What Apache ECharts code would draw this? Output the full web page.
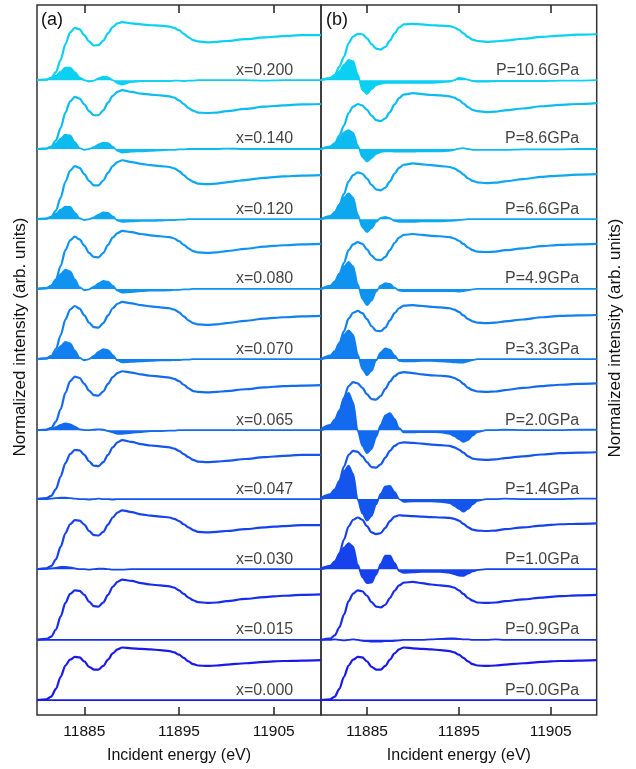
<!DOCTYPE html>
<html><head><meta charset="utf-8">
<script src="https://cdn.jsdelivr.net/npm/echarts@6/dist/echarts.min.js"></script>
<style>html,body{margin:0;padding:0;background:#fff}#c{width:636px;height:769px}</style>
</head><body><div id="c"></div>
<script>
// ---------- DATA ----------
const energy = [11880, 11881, 11881.5, 11882, 11882.5, 11883, 11883.5, 11884, 11884.5,
  11885, 11885.5, 11886, 11886.5, 11887, 11887.5, 11888, 11888.5, 11889,
  11890, 11891, 11892, 11893, 11894, 11894.5, 11895, 11895.5, 11896, 11896.5, 11897,
  11898, 11899, 11900, 11902, 11904, 11906, 11908, 11910];
const energyTicks = [11885, 11895, 11905];
const labelsA = ['x=0.200', 'x=0.140', 'x=0.120', 'x=0.080', 'x=0.070', 'x=0.065', 'x=0.047', 'x=0.030', 'x=0.015', 'x=0.000'];
const labelsB = ['P=10.6GPa', 'P=8.6GPa', 'P=6.6GPa', 'P=4.9GPa', 'P=3.3GPa', 'P=2.0GPa', 'P=1.4GPa', 'P=1.0GPa', 'P=0.9GPa', 'P=0.0GPa'];
// vertical offset of each spectrum (stacking), top to bottom
const offsets = [14.11, 12.58, 11.02, 9.47, 7.91, 6.33, 4.80, 3.24, 1.67, 0.33];

// panel (a) spectra
const xas_x0200 = [0.00, 0.01, 0.05, 0.18, 0.45, 0.80, 1.06, 1.16, 1.13,
  1.00, 0.86, 0.77, 0.78, 0.88, 1.04, 1.18, 1.26, 1.29,
  1.26, 1.24, 1.22, 1.21, 1.19, 1.16, 1.11, 1.03, 0.95, 0.89, 0.86,
  0.84, 0.85, 0.87, 0.91, 0.95, 0.98, 1.00, 1.00];
const xas_x0140 = [0.00, 0.01, 0.05, 0.19, 0.47, 0.81, 1.06, 1.16, 1.12,
  0.99, 0.84, 0.75, 0.75, 0.86, 1.03, 1.18, 1.27, 1.31,
  1.27, 1.23, 1.21, 1.19, 1.17, 1.14, 1.08, 1.00, 0.91, 0.85, 0.81,
  0.80, 0.81, 0.84, 0.89, 0.94, 0.97, 0.99, 1.00];
const xas_x0120 = [0.00, 0.01, 0.05, 0.19, 0.48, 0.83, 1.08, 1.18, 1.14,
  1.00, 0.85, 0.75, 0.75, 0.86, 1.03, 1.18, 1.27, 1.31,
  1.27, 1.23, 1.20, 1.18, 1.16, 1.13, 1.07, 0.98, 0.89, 0.83, 0.79,
  0.78, 0.79, 0.82, 0.87, 0.92, 0.95, 0.97, 0.98];
const xas_x0080 = [0.00, 0.01, 0.06, 0.21, 0.51, 0.86, 1.08, 1.16, 1.10,
  0.96, 0.80, 0.71, 0.70, 0.80, 0.98, 1.14, 1.24, 1.29,
  1.26, 1.22, 1.19, 1.17, 1.15, 1.12, 1.06, 0.98, 0.90, 0.84, 0.81,
  0.80, 0.81, 0.84, 0.89, 0.94, 0.97, 0.99, 1.00];
const xas_x0070 = [0.00, 0.01, 0.06, 0.22, 0.53, 0.88, 1.10, 1.18, 1.12,
  0.97, 0.81, 0.71, 0.70, 0.80, 0.97, 1.13, 1.23, 1.27,
  1.24, 1.20, 1.17, 1.15, 1.13, 1.10, 1.04, 0.95, 0.86, 0.80, 0.77,
  0.76, 0.77, 0.80, 0.85, 0.90, 0.93, 0.95, 0.96];
const xas_x0065 = [0.00, 0.01, 0.05, 0.19, 0.47, 0.83, 1.09, 1.19, 1.16,
  1.03, 0.88, 0.78, 0.77, 0.86, 1.03, 1.18, 1.27, 1.31,
  1.28, 1.24, 1.21, 1.19, 1.17, 1.14, 1.09, 1.01, 0.93, 0.87, 0.85,
  0.84, 0.85, 0.87, 0.91, 0.95, 0.98, 0.99, 1.00];
const xas_x0047 = [0.00, 0.02, 0.07, 0.22, 0.50, 0.80, 1.00, 1.09, 1.08,
  0.98, 0.84, 0.74, 0.73, 0.82, 0.98, 1.15, 1.26, 1.31,
  1.27, 1.22, 1.19, 1.17, 1.15, 1.12, 1.07, 1.00, 0.93, 0.87, 0.83,
  0.82, 0.83, 0.85, 0.89, 0.93, 0.96, 0.98, 0.98];
const xas_x0030 = [0.00, 0.02, 0.07, 0.22, 0.50, 0.80, 1.00, 1.09, 1.08,
  0.99, 0.85, 0.76, 0.75, 0.83, 0.99, 1.15, 1.26, 1.31,
  1.27, 1.22, 1.19, 1.17, 1.15, 1.12, 1.07, 1.00, 0.93, 0.87, 0.83,
  0.82, 0.83, 0.85, 0.89, 0.93, 0.96, 0.98, 0.98];
const xas_x0015 = [0.00, 0.02, 0.07, 0.23, 0.52, 0.82, 1.02, 1.10, 1.09,
  1.00, 0.85, 0.75, 0.74, 0.83, 1.00, 1.18, 1.29, 1.34,
  1.31, 1.26, 1.23, 1.21, 1.19, 1.16, 1.10, 1.02, 0.94, 0.88, 0.84,
  0.82, 0.83, 0.86, 0.91, 0.95, 0.98, 1.00, 1.01];
const xas_x0000 = [0.00, 0.02, 0.08, 0.25, 0.52, 0.77, 0.90, 0.96, 0.95,
  0.86, 0.74, 0.68, 0.68, 0.76, 0.90, 1.04, 1.13, 1.17,
  1.15, 1.14, 1.13, 1.11, 1.09, 1.06, 1.01, 0.94, 0.86, 0.80, 0.77,
  0.76, 0.77, 0.79, 0.82, 0.85, 0.87, 0.88, 0.89];

const diff_x0200 = [0.00, 0.01, 0.04, 0.10, 0.19, 0.28, 0.28, 0.18, 0.06,
  0.00, -0.03, -0.01, 0.04, 0.08, 0.06, 0.00, -0.07, -0.10,
  -0.04, -0.02, -0.02, -0.02, -0.02, -0.01, -0.01, -0.02, -0.01, -0.01, 0.00,
  0.00, 0.00, 0.00, 0.00, -0.01, 0.00, 0.00, 0.00];
const diff_x0140 = [0.00, 0.01, 0.05, 0.12, 0.23, 0.32, 0.30, 0.15, 0.02,
  -0.02, 0.00, 0.04, 0.10, 0.14, 0.13, 0.05, -0.04, -0.08,
  -0.06, -0.05, -0.04, -0.03, -0.02, -0.02, -0.01, -0.01, 0.00, 0.00, 0.00,
  0.00, 0.00, 0.01, 0.00, 0.00, 0.00, 0.00, 0.00];
const diff_x0120 = [0.00, 0.01, 0.05, 0.12, 0.21, 0.28, 0.27, 0.14, 0.02,
  -0.02, 0.00, 0.04, 0.10, 0.15, 0.14, 0.06, -0.03, -0.06,
  -0.05, -0.04, -0.04, -0.03, -0.02, -0.02, -0.01, -0.01, 0.00, 0.00, 0.00,
  0.00, 0.00, 0.00, 0.00, 0.00, 0.00, 0.00, 0.00];
const diff_x0080 = [0.00, 0.02, 0.08, 0.19, 0.33, 0.43, 0.39, 0.21, 0.04,
  -0.03, -0.01, 0.05, 0.12, 0.18, 0.16, 0.07, -0.04, -0.08,
  -0.07, -0.05, -0.04, -0.04, -0.03, -0.02, -0.02, -0.01, -0.01, 0.00, 0.00,
  0.00, 0.00, 0.00, 0.00, 0.00, 0.00, 0.00, 0.00];
const diff_x0070 = [0.00, 0.02, 0.07, 0.17, 0.29, 0.38, 0.35, 0.19, 0.03,
  -0.03, 0.00, 0.07, 0.16, 0.22, 0.20, 0.09, -0.03, -0.07,
  -0.06, -0.05, -0.04, -0.03, -0.03, -0.02, -0.02, -0.01, -0.01, 0.00, 0.00,
  0.00, 0.00, 0.00, 0.00, 0.00, 0.00, 0.00, 0.00];
const diff_x0065 = [0.00, 0.01, 0.03, 0.07, 0.12, 0.15, 0.13, 0.08, 0.02,
  0.00, 0.00, 0.01, 0.02, 0.01, -0.02, -0.05, -0.08, -0.08,
  -0.06, -0.04, -0.02, -0.02, -0.01, -0.01, 0.00, 0.00, 0.00, 0.00, 0.00,
  0.00, 0.00, 0.00, 0.00, 0.00, 0.00, 0.00, 0.00];
const diff_x0047 = [0.00, 0.00, 0.01, 0.02, 0.03, 0.03, 0.02, 0.01, 0.00,
  0.00, -0.01, 0.00, 0.01, 0.00, 0.00, -0.01, 0.00, 0.00,
  0.00, 0.00, 0.00, 0.00, 0.00, 0.00, 0.00, 0.00, 0.00, 0.00, 0.00,
  0.00, 0.00, 0.00, 0.00, 0.00, 0.00, 0.00, 0.00];
const diff_x0030 = [0.00, 0.01, 0.02, 0.03, 0.05, 0.05, 0.04, 0.02, 0.00,
  0.00, -0.01, 0.00, 0.01, 0.01, 0.00, -0.01, -0.01, -0.01,
  0.00, 0.00, 0.00, 0.00, 0.00, 0.00, 0.00, 0.00, 0.00, 0.00, 0.00,
  0.00, 0.00, 0.00, 0.00, 0.00, 0.00, 0.00, 0.00];
const diff_x0015 = [0.00, 0.00, 0.00, 0.00, 0.00, 0.00, 0.00, 0.00, 0.00,
  0.00, 0.00, 0.00, 0.00, 0.00, 0.00, 0.00, 0.00, 0.00,
  0.00, 0.00, 0.00, 0.00, 0.00, 0.00, 0.00, 0.00, 0.00, 0.00, 0.00,
  0.00, 0.00, 0.00, 0.00, 0.00, 0.00, 0.00, 0.00];
const diff_x0000 = [0.00, 0.00, 0.00, 0.00, 0.00, 0.00, 0.00, 0.00, 0.00,
  0.00, 0.00, 0.00, 0.00, 0.00, 0.00, 0.00, 0.00, 0.00,
  0.00, 0.00, 0.00, 0.00, 0.00, 0.00, 0.00, 0.00, 0.00, 0.00, 0.00,
  0.00, 0.00, 0.00, 0.00, 0.00, 0.00, 0.00, 0.00];

// panel (b) spectra
const xas_p106 = [0.00, 0.04, 0.12, 0.30, 0.52, 0.82, 0.97, 1.03, 1.02,
  0.93, 0.80, 0.70, 0.68, 0.74, 0.88, 1.04, 1.17, 1.24,
  1.25, 1.24, 1.22, 1.21, 1.20, 1.17, 1.12, 1.04, 0.96, 0.90, 0.87,
  0.85, 0.86, 0.88, 0.92, 0.96, 0.99, 1.01, 1.02];
const xas_p86 = [0.00, 0.04, 0.12, 0.30, 0.52, 0.80, 0.94, 1.00, 0.97,
  0.87, 0.74, 0.64, 0.62, 0.68, 0.82, 0.99, 1.13, 1.21,
  1.24, 1.22, 1.20, 1.19, 1.17, 1.14, 1.09, 1.01, 0.93, 0.87, 0.84,
  0.82, 0.83, 0.86, 0.90, 0.95, 0.98, 1.00, 1.02];
const xas_p66 = [0.00, 0.04, 0.13, 0.32, 0.56, 0.84, 0.98, 1.04, 1.01,
  0.90, 0.76, 0.66, 0.64, 0.70, 0.84, 1.01, 1.14, 1.21,
  1.24, 1.22, 1.20, 1.18, 1.16, 1.13, 1.07, 0.99, 0.91, 0.85, 0.82,
  0.80, 0.81, 0.84, 0.89, 0.94, 0.97, 0.99, 1.00];
const xas_p49 = [0.00, 0.04, 0.13, 0.33, 0.58, 0.86, 0.99, 1.04, 1.00,
  0.88, 0.74, 0.65, 0.64, 0.71, 0.86, 1.02, 1.14, 1.20,
  1.22, 1.20, 1.18, 1.17, 1.15, 1.12, 1.07, 1.00, 0.92, 0.86, 0.83,
  0.82, 0.83, 0.86, 0.90, 0.95, 0.98, 0.99, 1.00];
const xas_p33 = [0.00, 0.04, 0.14, 0.35, 0.62, 0.90, 1.03, 1.07, 1.02,
  0.89, 0.73, 0.63, 0.62, 0.70, 0.86, 1.02, 1.13, 1.19,
  1.20, 1.18, 1.16, 1.15, 1.13, 1.10, 1.05, 0.97, 0.89, 0.84, 0.81,
  0.80, 0.81, 0.84, 0.88, 0.93, 0.96, 0.97, 0.98];
const xas_p20 = [0.00, 0.05, 0.16, 0.40, 0.72, 0.98, 1.07, 1.04, 0.94,
  0.80, 0.69, 0.68, 0.76, 0.92, 1.08, 1.20, 1.27, 1.29,
  1.27, 1.24, 1.22, 1.21, 1.19, 1.16, 1.11, 1.03, 0.94, 0.89, 0.86,
  0.85, 0.86, 0.89, 0.94, 0.98, 1.01, 1.03, 1.04];
const xas_p14 = [0.00, 0.05, 0.16, 0.40, 0.72, 0.98, 1.07, 1.05, 0.95,
  0.82, 0.71, 0.70, 0.77, 0.92, 1.07, 1.18, 1.24, 1.26,
  1.25, 1.23, 1.21, 1.20, 1.18, 1.15, 1.10, 1.03, 0.95, 0.90, 0.88,
  0.87, 0.88, 0.91, 0.95, 0.99, 1.02, 1.03, 1.04];
const xas_p10 = [0.00, 0.04, 0.13, 0.35, 0.66, 0.95, 1.10, 1.15, 1.10,
  0.96, 0.82, 0.78, 0.80, 0.92, 1.07, 1.17, 1.20, 1.19,
  1.18, 1.17, 1.16, 1.15, 1.14, 1.12, 1.08, 1.01, 0.93, 0.88, 0.86,
  0.85, 0.86, 0.89, 0.93, 0.97, 1.00, 1.01, 1.02];
const xas_p09 = [0.00, 0.03, 0.10, 0.28, 0.56, 0.86, 1.03, 1.10, 1.08,
  0.98, 0.84, 0.74, 0.72, 0.78, 0.93, 1.09, 1.21, 1.27,
  1.29, 1.26, 1.23, 1.21, 1.19, 1.16, 1.10, 1.02, 0.93, 0.87, 0.83,
  0.82, 0.83, 0.86, 0.90, 0.94, 0.97, 0.99, 1.00];
const xas_p00 = [0.00, 0.02, 0.08, 0.25, 0.52, 0.77, 0.90, 0.96, 0.95,
  0.86, 0.74, 0.68, 0.68, 0.76, 0.90, 1.04, 1.13, 1.17,
  1.15, 1.14, 1.13, 1.11, 1.09, 1.06, 1.01, 0.94, 0.86, 0.80, 0.77,
  0.76, 0.77, 0.79, 0.82, 0.85, 0.87, 0.88, 0.89];

const diff_p106 = [0.00, 0.05, 0.10, 0.20, 0.34, 0.45, 0.42, 0.12, -0.22,
  -0.31, -0.20, -0.11, -0.08, -0.06, -0.06, -0.06, -0.06, -0.06,
  -0.06, -0.06, -0.06, -0.05, -0.03, 0.00, 0.05, 0.04, 0.01, -0.02, -0.03,
  -0.03, -0.02, -0.02, -0.02, -0.02, -0.01, -0.01, 0.00];
const diff_p86 = [0.00, 0.06, 0.13, 0.25, 0.37, 0.42, 0.36, 0.08, -0.18,
  -0.28, -0.20, -0.11, -0.07, -0.05, -0.05, -0.06, -0.06, -0.06,
  -0.06, -0.05, -0.05, -0.05, -0.04, -0.02, 0.01, 0.02, 0.00, -0.02, -0.02,
  -0.02, -0.02, -0.02, -0.01, -0.01, -0.01, 0.00, 0.00];
const diff_p66 = [0.00, 0.07, 0.16, 0.32, 0.48, 0.57, 0.48, 0.10, -0.18,
  -0.29, -0.20, -0.06, 0.03, 0.05, 0.02, -0.04, -0.06, -0.06,
  -0.06, -0.05, -0.05, -0.05, -0.04, -0.03, -0.02, -0.01, 0.00, 0.00, 0.00,
  0.00, 0.00, 0.00, 0.00, 0.00, 0.00, 0.00, 0.00];
const diff_p49 = [0.00, 0.07, 0.17, 0.34, 0.50, 0.60, 0.50, 0.10, -0.22,
  -0.36, -0.26, -0.06, 0.07, 0.13, 0.11, 0.03, -0.04, -0.05,
  -0.05, -0.05, -0.05, -0.05, -0.05, -0.05, -0.06, -0.05, -0.03, -0.01, 0.00,
  0.00, 0.00, 0.00, 0.00, 0.00, 0.00, 0.00, 0.00];
const diff_p33 = [0.00, 0.08, 0.18, 0.36, 0.54, 0.64, 0.54, 0.10, -0.22,
  -0.36, -0.26, -0.03, 0.15, 0.24, 0.21, 0.08, -0.04, -0.05,
  -0.05, -0.04, -0.04, -0.05, -0.06, -0.07, -0.08, -0.08, -0.05, -0.02, 0.00,
  0.00, 0.00, 0.00, 0.00, 0.00, 0.00, 0.00, 0.00];
const diff_p20 = [0.03, 0.12, 0.24, 0.44, 0.68, 0.83, 0.62, -0.02, -0.35,
  -0.51, -0.42, -0.15, 0.12, 0.33, 0.38, 0.25, 0.05, -0.05,
  -0.05, -0.04, -0.04, -0.05, -0.08, -0.13, -0.20, -0.26, -0.22, -0.12, -0.04,
  0.00, 0.00, 0.01, 0.00, 0.00, 0.00, 0.01, 0.01];
const diff_p14 = [0.03, 0.11, 0.22, 0.40, 0.62, 0.74, 0.56, -0.02, -0.32,
  -0.48, -0.38, -0.12, 0.12, 0.28, 0.29, 0.16, 0.00, -0.06,
  -0.05, -0.05, -0.05, -0.06, -0.09, -0.15, -0.22, -0.28, -0.22, -0.12, -0.04,
  0.00, 0.00, 0.01, 0.00, 0.00, 0.00, 0.01, 0.01];
const diff_p10 = [0.02, 0.08, 0.18, 0.32, 0.48, 0.58, 0.50, 0.10, -0.18,
  -0.31, -0.30, -0.12, 0.12, 0.30, 0.30, 0.14, -0.04, -0.08,
  -0.07, -0.06, -0.06, -0.06, -0.08, -0.11, -0.14, -0.15, -0.10, -0.05, -0.02,
  0.00, 0.00, 0.00, 0.00, 0.00, 0.00, 0.00, 0.00];
const diff_p09 = [0.00, 0.00, 0.01, 0.00, -0.01, 0.00, 0.01, 0.00, -0.02,
  -0.03, -0.04, -0.04, -0.04, -0.03, -0.03, -0.02, -0.01, 0.00,
  0.00, 0.00, 0.01, 0.02, 0.03, 0.03, 0.02, 0.01, 0.01, 0.00, 0.00,
  0.00, 0.01, 0.00, 0.00, 0.00, 0.00, 0.00, 0.00];
const diff_p00 = [0.00, 0.00, 0.00, 0.00, 0.00, 0.00, 0.00, 0.00, 0.00,
  0.00, 0.00, 0.00, 0.00, 0.00, 0.00, 0.00, 0.00, 0.00,
  0.00, 0.00, 0.00, 0.00, 0.00, 0.00, 0.00, 0.00, 0.00, 0.00, 0.00,
  0.00, 0.00, 0.00, 0.00, 0.00, 0.00, 0.00, 0.00];

const xasA = [xas_x0200, xas_x0140, xas_x0120, xas_x0080, xas_x0070, xas_x0065, xas_x0047, xas_x0030, xas_x0015, xas_x0000];
const diffA = [diff_x0200, diff_x0140, diff_x0120, diff_x0080, diff_x0070, diff_x0065, diff_x0047, diff_x0030, diff_x0015, diff_x0000];
const xasB = [xas_p106, xas_p86, xas_p66, xas_p49, xas_p33, xas_p20, xas_p14, xas_p10, xas_p09, xas_p00];
const diffB = [diff_p106, diff_p86, diff_p66, diff_p49, diff_p33, diff_p20, diff_p14, diff_p10, diff_p09, diff_p00];

// ---------- STYLE / LAYOUT ----------
const FONT = "'Liberation Sans', Arial, Helvetica, sans-serif";
const TXT = '#111';
function rowColor(i) {
  const t = i / 9;
  const r = Math.round(10 + t * 15), g = Math.round(208 - t * 183), b = Math.round(242 - t * 7);
  return 'rgb(' + r + ',' + g + ',' + b + ')';
}
const labelX = [11907.07, 11908.1];
const labelDy = 0.22;

const series = [];
[[xasA, diffA, labelsA], [xasB, diffB, labelsB]].forEach(([xs, ds, labs], p) => {
  for (let i = 0; i < 10; i++) {
    const c = rowColor(i);
    series.push({
      type: 'line', xAxisIndex: p * 2, yAxisIndex: p, silent: true, z: 3,
      showSymbol: false, symbol: 'none', smooth: 0.3, smoothMonotone: 'x',
      lineStyle: { color: c, width: 2.2 },
      data: energy.map((e, j) => [e, offsets[i] + xs[i][j]])
    });
    series.push({
      type: 'line', xAxisIndex: p * 2, yAxisIndex: p, silent: true, z: 2,
      showSymbol: false, symbol: 'none', smooth: 0.3, smoothMonotone: 'x',
      lineStyle: { color: c, width: 1.8 },
      areaStyle: { color: c, opacity: 1, origin: offsets[i] },
      data: energy.map((e, j) => [e, offsets[i] + ds[i][j]])
    });
  }
  series.push({
    type: 'scatter', xAxisIndex: p * 2, yAxisIndex: p, silent: true, symbolSize: 0, z: 5,
    label: { show: true, position: 'left', distance: 0, formatter: '{b}', fontSize: 16, color: TXT, fontFamily: FONT },
    data: labs.map((t, i) => ({ name: t, value: [labelX[p], offsets[i] + labelDy] }))
  });
});

function xAx(grid, pos, withLabel) {
  const a = {
    gridIndex: grid, type: 'value', min: 11880, max: 11910, position: pos,
    axisLine: { show: false },
    axisTick: { show: true, inside: true, length: 8, customValues: energyTicks, lineStyle: { color: '#222', width: 1.5 } },
    axisLabel: { show: withLabel, customValues: energyTicks, formatter: v => String(v), fontSize: 15.5, color: TXT, fontFamily: FONT, margin: 9 },
    splitLine: { show: false }
  };
  if (withLabel) {
    a.name = 'Incident energy (eV)'; a.nameLocation = 'middle'; a.nameGap = 33;
    a.nameTextStyle = { fontSize: 16, color: TXT, fontFamily: FONT };
  }
  return a;
}
function yAx(grid, pos) {
  return {
    gridIndex: grid, type: 'value', min: 0, max: 15.78, position: pos,
    axisLine: { show: false }, axisTick: { show: false }, axisLabel: { show: false }, splitLine: { show: false }
  };
}
const yName = 'Normalized intensity (arb. units)';

const option = {
  animation: false,
  backgroundColor: '#fff',
  grid: [
    { left: 37, right: 315, top: 5, bottom: 54, show: true, borderColor: '#333', borderWidth: 1.5, backgroundColor: 'transparent' },
    { left: 321, right: 39.3, top: 5, bottom: 54, show: true, borderColor: '#333', borderWidth: 1.5, backgroundColor: 'transparent' }
  ],
  xAxis: [xAx(0, 'bottom', true), xAx(0, 'top', false), xAx(1, 'bottom', true), xAx(1, 'top', false)],
  yAxis: [yAx(0, 'left'), yAx(1, 'right')],
  graphic: [
    { type: 'text', left: 41, top: 11, style: { text: '(a)', fill: TXT, font: "18px 'Liberation Sans', Arial, sans-serif" } },
    { type: 'text', left: 326, top: 11, style: { text: '(b)', fill: TXT, font: "18px 'Liberation Sans', Arial, sans-serif" } },
    { type: 'text', x: 20, y: 337, rotation: Math.PI / 2,
      style: { text: yName, fill: TXT, font: "17px 'Liberation Sans', Arial, sans-serif", textAlign: 'center', textVerticalAlign: 'middle' } },
    { type: 'text', x: 615, y: 338, rotation: Math.PI / 2,
      style: { text: yName, fill: TXT, font: "17px 'Liberation Sans', Arial, sans-serif", textAlign: 'center', textVerticalAlign: 'middle' } }
  ],
  series: series
};
const chart = echarts.init(document.getElementById('c'), null, { renderer: 'canvas' });
chart.setOption(option);
</script>
</body></html>
